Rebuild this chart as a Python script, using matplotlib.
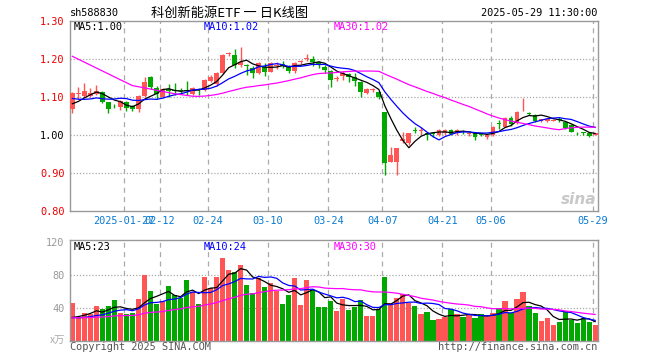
import numpy as np
import pandas as pd
import matplotlib
matplotlib.use("Agg")
import matplotlib.pyplot as plt

plt.rcParams['font.family'] = ['DejaVu Sans Mono']

# daily K line, 2025-01-14 .. 2025-05-29 (88 sessions)
opens = [1.068, 1.108, 1.103, 1.103, 1.108, 1.113, 1.086, 1.077, 1.075, 1.087,
         1.077, 1.068, 1.103, 1.152, 1.125, 1.101, 1.120, 1.119, 1.118, 1.118,
         1.108, 1.122, 1.118, 1.143, 1.135, 1.162, 1.213, 1.211, 1.184, 1.185,
         1.176, 1.162, 1.180, 1.167, 1.182, 1.188, 1.180, 1.169, 1.192, 1.199,
         1.199, 1.193, 1.180, 1.169, 1.147, 1.155, 1.160, 1.152, 1.140, 1.111,
         1.119, 1.114, 1.061, 0.930, 0.930, 0.983, 0.978, 1.013, 1.010, 1.006,
         1.004, 1.000, 1.004, 1.013, 1.004, 1.009, 1.002, 1.004, 1.002, 0.994,
         1.000, 1.031, 1.022, 1.045, 1.032, 1.065, 1.058, 1.053, 1.036, 1.037,
         1.038, 1.041, 1.035, 1.026, 1.005, 1.006, 1.006, 1.001]
closes = [1.111, 1.111, 1.117, 1.110, 1.117, 1.088, 1.068, 1.076, 1.089, 1.071,
          1.069, 1.103, 1.139, 1.127, 1.107, 1.120, 1.116, 1.117, 1.115, 1.115,
          1.125, 1.119, 1.145, 1.152, 1.162, 1.211, 1.215, 1.184, 1.193, 1.181,
          1.163, 1.189, 1.167, 1.190, 1.185, 1.182, 1.168, 1.189, 1.194, 1.203,
          1.193, 1.184, 1.170, 1.145, 1.149, 1.162, 1.153, 1.143, 1.114, 1.120,
          1.121, 1.101, 0.927, 0.947, 0.965, 0.989, 1.004, 1.011, 1.013, 1.000,
          1.002, 1.013, 1.013, 1.003, 1.014, 1.007, 1.005, 0.994, 1.001, 1.000,
          1.022, 1.030, 1.045, 1.028, 1.061, 1.066, 1.056, 1.038, 1.041, 1.042,
          1.039, 1.040, 1.018, 1.009, 1.004, 1.005, 0.998, 1.004]
highs = [1.113, 1.127, 1.136, 1.125, 1.131, 1.116, 1.088, 1.082, 1.091, 1.089,
         1.079, 1.104, 1.152, 1.155, 1.130, 1.123, 1.135, 1.136, 1.124, 1.142,
         1.127, 1.124, 1.148, 1.157, 1.165, 1.213, 1.219, 1.226, 1.232, 1.186,
         1.182, 1.191, 1.189, 1.193, 1.192, 1.194, 1.185, 1.191, 1.198, 1.213,
         1.208, 1.195, 1.184, 1.171, 1.156, 1.169, 1.163, 1.162, 1.142, 1.124,
         1.124, 1.116, 1.061, 0.969, 0.967, 1.009, 1.006, 1.022, 1.022, 1.009,
         1.008, 1.015, 1.016, 1.015, 1.017, 1.013, 1.008, 1.006, 1.004, 1.002,
         1.024, 1.040, 1.048, 1.049, 1.063, 1.097, 1.061, 1.054, 1.043, 1.044,
         1.042, 1.047, 1.036, 1.028, 1.009, 1.008, 1.007, 1.006]
lows = [1.057, 1.095, 1.100, 1.100, 1.104, 1.083, 1.058, 1.071, 1.066, 1.064,
        1.063, 1.060, 1.100, 1.122, 1.095, 1.097, 1.101, 1.105, 1.108, 1.104,
        1.105, 1.105, 1.116, 1.140, 1.130, 1.160, 1.208, 1.176, 1.180, 1.158,
        1.150, 1.160, 1.155, 1.165, 1.175, 1.177, 1.162, 1.162, 1.188, 1.196,
        1.182, 1.177, 1.164, 1.126, 1.141, 1.145, 1.139, 1.129, 1.101, 1.107,
        1.112, 1.094, 0.895, 0.928, 0.895, 0.979, 0.975, 1.004, 1.001, 0.987,
        0.996, 0.998, 1.000, 1.000, 1.000, 1.002, 0.998, 0.988, 0.997, 0.990,
        0.998, 1.015, 1.020, 1.025, 1.030, 1.064, 1.052, 1.034, 1.033, 1.034,
        1.036, 1.035, 1.016, 1.008, 0.999, 1.000, 0.995, 1.000]
# volume, x万
volumes = [46, 28, 33, 32, 42, 38, 42, 49, 34, 32,
           33, 51, 80, 60, 45, 48, 66, 56, 52, 74,
           59, 45, 77, 64, 77, 100, 86, 83, 92, 68,
           58, 76, 65, 70, 60, 44, 55, 76, 43, 74,
           62, 41, 41, 48, 36, 51, 37, 41, 49, 30,
           30, 39, 77, 46, 52, 57, 46, 42, 32, 35,
           25, 26, 29, 38, 32, 29, 31, 28, 32, 30,
           33, 40, 48, 33, 51, 59, 42, 34, 24, 28,
           19, 23, 36, 25, 21, 28, 22, 19]

# earlier sessions (not drawn, only feed the moving averages)
prev_closes = [1.34, 1.35, 1.34, 1.35, 1.32, 1.30, 1.31, 1.32, 1.30, 1.30,
               1.19, 1.23, 1.22, 1.20, 1.21, 1.21, 1.21, 1.18, 1.18, 1.19,
               1.13, 1.12, 1.10, 1.09, 1.11, 1.08, 1.07, 1.07, 1.08]
prev_volumes = [26, 30, 24, 28, 35, 27, 22, 25, 31, 29,
                26, 24, 28, 33, 30, 25, 27, 23, 26, 29,
                32, 28, 24, 27, 30, 22, 25, 21, 26]

tick_idx = [9, 15, 23, 33, 43, 52, 62, 70, 87]
tick_labels = ["2025-01-27", "02-12", "02-24", "03-10", "03-24",
               "04-07", "04-21", "05-06", "05-29"]
price_ticks = [0.80, 0.90, 1.00, 1.10, 1.20, 1.30]
vol_ticks = [40, 80, 120]

RED = '#ff5555'
GREEN = '#00a800'
GRID = '#aaaaaa'
W, H = 660, 360


def ma(prev, cur, n):
    s = pd.Series(list(prev) + list(cur))
    return s.rolling(n, min_periods=1).mean().values[len(prev):]


o = np.array(opens); c = np.array(closes)
hi = np.array(highs); lo = np.array(lows)
v = np.array(volumes)
x = np.arange(len(c))
col = np.where(c >= o, RED, GREEN)

fig = plt.figure(figsize=(W / 100, H / 100), dpi=100)
ax = fig.add_axes([70 / W, 1 - 211 / H, 528 / W, 190 / H])
axv = fig.add_axes([70 / W, 1 - 340.5 / H, 528 / W, 100.5 / H])

for a in (ax, axv):
    a.set_xlim(-0.4, 87.47)
    for sp in a.spines.values():
        sp.set_color('#999999')
        sp.set_linewidth(1.0)
    a.set_xticks([])
    for t in tick_idx:
        a.axvline(t - 0.42, color=GRID, lw=0.9, ls=(0, (4, 3.5)), zorder=0)

# price panel
ax.set_ylim(0.80, 1.30)
for yv in [0.90, 1.00, 1.10, 1.20]:
    ax.axhline(yv, color=GRID, lw=0.9, ls=(0, (1, 1.5)), zorder=0)
ax.vlines(x, lo, hi, colors=col, lw=1.0, zorder=2)
ax.bar(x, np.maximum(np.abs(c - o), 0.0016), bottom=np.minimum(o, c),
       width=0.8, color=col, lw=0, zorder=3)
ax.plot(x, ma(prev_closes, c, 5), color='black', lw=0.9, zorder=4)
ax.plot(x, ma(prev_closes, c, 10), color='#0000ff', lw=0.9, zorder=4)
ax.plot(x, ma(prev_closes, c, 30), color='#ff00ff', lw=0.9, zorder=4)
ax.set_yticks(price_ticks)
ax.set_yticklabels(["%.2f" % p for p in price_ticks], fontsize=7.4)
ax.tick_params(axis='y', length=0, pad=4)
for lab, p in zip(ax.get_yticklabels(), price_ticks):
    lab.set_color('black' if abs(p - 1.0) < 1e-9 else '#ee0000')

for t, lab in zip(tick_idx, tick_labels):
    ax.text(t - 0.42, -0.055, lab, transform=ax.get_xaxis_transform(),
            ha='center', va='center', fontsize=7.4, color='#0a7ad2')

# volume panel
axv.set_ylim(0, 122.5)
for yv in [40, 80]:
    axv.axhline(yv, color=GRID, lw=0.9, ls=(0, (1, 1.5)), zorder=0)
axv.bar(x, v, width=0.86, color=col, lw=0, zorder=2)
axv.plot(x, ma(prev_volumes, v, 5), color='black', lw=0.9, zorder=4)
axv.plot(x, ma(prev_volumes, v, 10), color='#0000ff', lw=0.9, zorder=4)
axv.plot(x, ma(prev_volumes, v, 30), color='#ff00ff', lw=0.9, zorder=4)
axv.set_yticks(vol_ticks)
axv.set_yticklabels([str(t) for t in vol_ticks], fontsize=7.4, color='#999999')
axv.tick_params(axis='y', length=0, pad=4)


def ftext(px, py, s, **kw):
    fig.text(px / W, 1 - py / H, s, **kw)


ftext(70, 13, "sh588830", fontsize=7.4, va='center')
ftext(230, 13, "科创新能源ETF 一 日K线图", fontsize=9.5, va='center', ha='center',
      family=['Noto Sans CJK SC', 'DejaVu Sans'])
ftext(597, 13, "2025-05-29 11:30:00", fontsize=7.4, va='center', ha='right')

ftext(74, 27, "MA5:1.00", fontsize=7.4, va='center', color='black')
ftext(204, 27, "MA10:1.02", fontsize=7.4, va='center', color='#0000ff')
ftext(334, 27, "MA30:1.02", fontsize=7.4, va='center', color='#ff00ff')
ftext(74, 247, "MA5:23", fontsize=7.4, va='center', color='black')
ftext(204, 247, "MA10:24", fontsize=7.4, va='center', color='#0000ff')
ftext(334, 247, "MA30:30", fontsize=7.4, va='center', color='#ff00ff')

ftext(65, 340, "x万", fontsize=7.4, va='center', ha='right', color='#aaaaaa',
      family=['Noto Sans CJK SC', 'DejaVu Sans'])
ftext(70, 347, "Copyright 2025 SINA.COM", fontsize=7.4, va='center', color='#555555')
ftext(597, 347, "http://finance.sina.com.cn", fontsize=7.4, va='center',
      ha='right', color='#555555')
ftext(579, 200, "sina", fontsize=11, va='center', ha='center', color='#c8c8c8',
      style='italic', weight='bold', family='DejaVu Sans')

fig.savefig("out.png", dpi=100)
